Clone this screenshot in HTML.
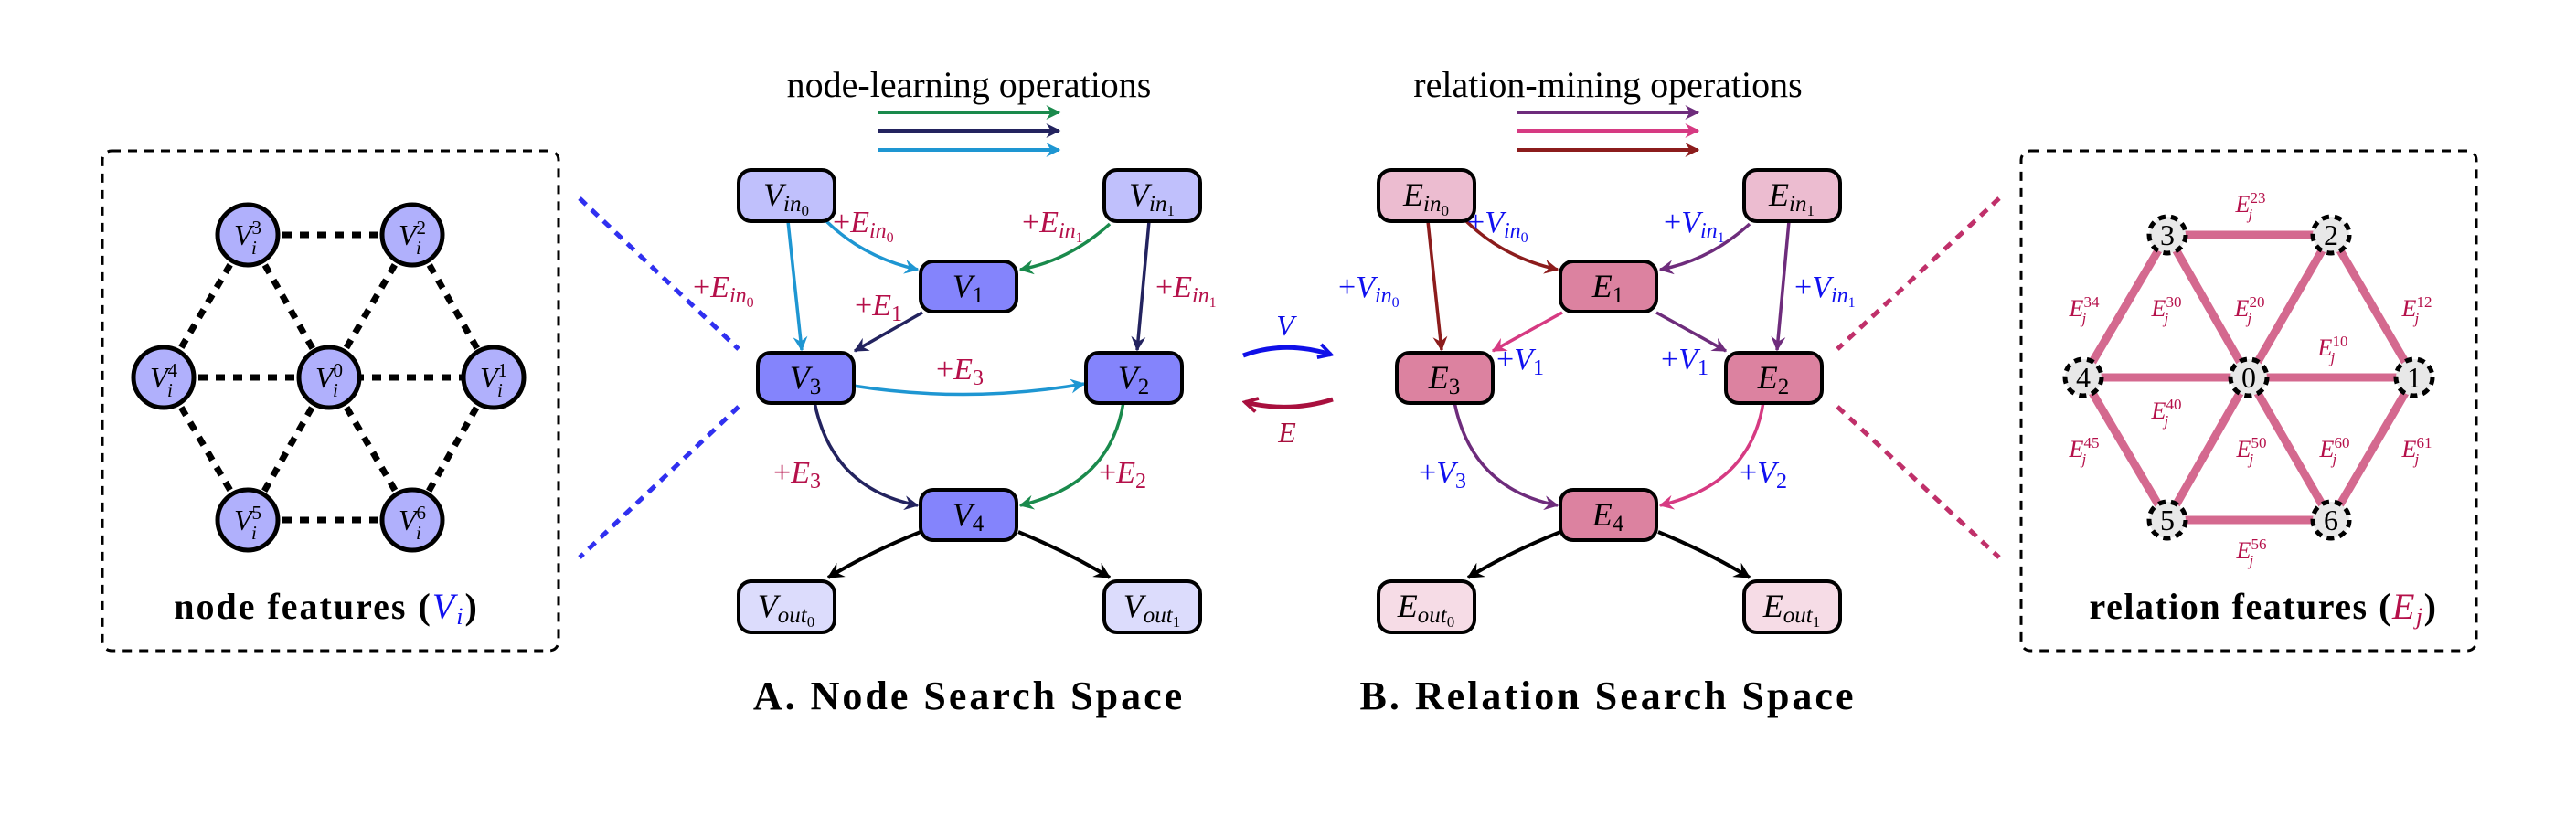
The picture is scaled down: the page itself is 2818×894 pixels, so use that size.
<!DOCTYPE html>
<html><head><meta charset="utf-8"><style>
html,body{margin:0;padding:0;background:#fff;}
svg{display:block;}
text{font-family:"Liberation Serif",serif;}
.it{font-style:italic;}
</style></head><body>
<svg width="2818" height="894" viewBox="0 0 2818 894" xmlns="http://www.w3.org/2000/svg">
<defs>
<marker id="mcy" viewBox="0 0 12 12" refX="11" refY="6" markerWidth="16" markerHeight="16" markerUnits="userSpaceOnUse" orient="auto"><path d="M0,0 L12,6 L0,12 L4,6 Z" fill="#1e96d2"/></marker>
<marker id="mgr" viewBox="0 0 12 12" refX="11" refY="6" markerWidth="16" markerHeight="16" markerUnits="userSpaceOnUse" orient="auto"><path d="M0,0 L12,6 L0,12 L4,6 Z" fill="#1a8a4c"/></marker>
<marker id="mnv" viewBox="0 0 12 12" refX="11" refY="6" markerWidth="16" markerHeight="16" markerUnits="userSpaceOnUse" orient="auto"><path d="M0,0 L12,6 L0,12 L4,6 Z" fill="#23235f"/></marker>
<marker id="mbk" viewBox="0 0 12 12" refX="11" refY="6" markerWidth="18" markerHeight="18" markerUnits="userSpaceOnUse" orient="auto"><path d="M0,0 L12,6 L0,12 L4,6 Z" fill="#000"/></marker>
<marker id="mdr" viewBox="0 0 12 12" refX="11" refY="6" markerWidth="16" markerHeight="16" markerUnits="userSpaceOnUse" orient="auto"><path d="M0,0 L12,6 L0,12 L4,6 Z" fill="#8c1c1c"/></marker>
<marker id="mpu" viewBox="0 0 12 12" refX="11" refY="6" markerWidth="16" markerHeight="16" markerUnits="userSpaceOnUse" orient="auto"><path d="M0,0 L12,6 L0,12 L4,6 Z" fill="#6e2c7c"/></marker>
<marker id="mpk" viewBox="0 0 12 12" refX="11" refY="6" markerWidth="16" markerHeight="16" markerUnits="userSpaceOnUse" orient="auto"><path d="M0,0 L12,6 L0,12 L4,6 Z" fill="#d63a82"/></marker>
<marker id="mbl" viewBox="0 0 12 12" refX="10" refY="6" markerWidth="18" markerHeight="18" markerUnits="userSpaceOnUse" orient="auto"><path d="M1,1 L10,6 L1,11" fill="none" stroke="#1010e8" stroke-width="2.5"/></marker>
<marker id="mcr" viewBox="0 0 12 12" refX="10" refY="6" markerWidth="18" markerHeight="18" markerUnits="userSpaceOnUse" orient="auto"><path d="M1,1 L10,6 L1,11" fill="none" stroke="#a8103e" stroke-width="2.5"/></marker>
</defs>

<!-- LEFT BOX -->
<rect x="112" y="165" width="499" height="547" rx="10" fill="none" stroke="#000" stroke-width="3" stroke-dasharray="10,8"/>
<g stroke="#000" stroke-width="7" stroke-dasharray="10,9">
<line x1="271" y1="257" x2="451" y2="257"/>
<line x1="179" y1="413" x2="540" y2="413"/>
<line x1="271" y1="569" x2="451" y2="569"/>
<line x1="271" y1="257" x2="179" y2="413"/>
<line x1="271" y1="257" x2="360" y2="413"/>
<line x1="451" y1="257" x2="360" y2="413"/>
<line x1="451" y1="257" x2="540" y2="413"/>
<line x1="179" y1="413" x2="271" y2="569"/>
<line x1="360" y1="413" x2="271" y2="569"/>
<line x1="360" y1="413" x2="451" y2="569"/>
<line x1="540" y1="413" x2="451" y2="569"/>
</g>
<g fill="#b0b0fc" stroke="#000" stroke-width="5">
<circle cx="271" cy="257" r="33"/><circle cx="451" cy="257" r="33"/>
<circle cx="179" cy="413" r="33"/><circle cx="360" cy="413" r="33"/><circle cx="540" cy="413" r="33"/>
<circle cx="271" cy="569" r="33"/><circle cx="451" cy="569" r="33"/>
</g>
<g font-size="32" text-anchor="middle">
<text x="271" y="268"><tspan class="it">V</tspan><tspan font-size="21" dy="-12">3</tspan><tspan class="it" font-size="21" dx="-11" dy="22">i</tspan></text>
<text x="451" y="268"><tspan class="it">V</tspan><tspan font-size="21" dy="-12">2</tspan><tspan class="it" font-size="21" dx="-11" dy="22">i</tspan></text>
<text x="179" y="424"><tspan class="it">V</tspan><tspan font-size="21" dy="-12">4</tspan><tspan class="it" font-size="21" dx="-11" dy="22">i</tspan></text>
<text x="360" y="424"><tspan class="it">V</tspan><tspan font-size="21" dy="-12">0</tspan><tspan class="it" font-size="21" dx="-11" dy="22">i</tspan></text>
<text x="540" y="424"><tspan class="it">V</tspan><tspan font-size="21" dy="-12">1</tspan><tspan class="it" font-size="21" dx="-11" dy="22">i</tspan></text>
<text x="271" y="580"><tspan class="it">V</tspan><tspan font-size="21" dy="-12">5</tspan><tspan class="it" font-size="21" dx="-11" dy="22">i</tspan></text>
<text x="451" y="580"><tspan class="it">V</tspan><tspan font-size="21" dy="-12">6</tspan><tspan class="it" font-size="21" dx="-11" dy="22">i</tspan></text>
</g>
<text x="357" y="677" font-size="40" font-weight="bold" letter-spacing="2" text-anchor="middle">node features (<tspan class="it" fill="#1010f0" font-weight="normal">V</tspan><tspan class="it" fill="#1010f0" font-weight="normal" font-size="26" dy="6">i</tspan><tspan dy="-6">)</tspan></text>
<g stroke="#3030f0" stroke-width="5" stroke-dasharray="10,8">
<line x1="634" y1="217" x2="808" y2="382"/>
<line x1="808" y1="445" x2="634" y2="610"/>
</g>

<!-- A TITLE + LEGEND -->
<text x="1060" y="106" font-size="40" text-anchor="middle">node-learning operations</text>
<line x1="960" y1="123" x2="1159" y2="123" stroke="#1a8a4c" stroke-width="4" marker-end="url(#mgr)"/>
<line x1="960" y1="143" x2="1159" y2="143" stroke="#23235f" stroke-width="4" marker-end="url(#mnv)"/>
<line x1="960" y1="164" x2="1159" y2="164" stroke="#1e96d2" stroke-width="4" marker-end="url(#mcy)"/>

<!-- A EDGES -->
<g fill="none" stroke-width="3.5">
<path d="M862,242 L877,383" stroke="#1e96d2" marker-end="url(#mcy)"/>
<path d="M904,242 Q945,282 1004,295" stroke="#1e96d2" marker-end="url(#mcy)"/>
<path d="M933,422 Q1060,442 1186,420" stroke="#1e96d2" marker-end="url(#mcy)"/>
<path d="M1214,245 Q1170,285 1116,295" stroke="#1a8a4c" marker-end="url(#mgr)"/>
<path d="M1229,440 Q1215,530 1116,553" stroke="#1a8a4c" marker-end="url(#mgr)"/>
<path d="M1257,242 L1244,383" stroke="#23235f" marker-end="url(#mnv)"/>
<path d="M1009,342 L935,384" stroke="#23235f" marker-end="url(#mnv)"/>
<path d="M891,440 Q910,535 1004,553" stroke="#23235f" marker-end="url(#mnv)"/>
<path d="M1007,582 Q950,605 906,632" stroke="#000" stroke-width="4" marker-end="url(#mbk)"/>
<path d="M1114,582 Q1170,605 1214,632" stroke="#000" stroke-width="4" marker-end="url(#mbk)"/>
</g>

<!-- A NODES -->
<g stroke="#000" stroke-width="4">
<rect x="808" y="186" width="105" height="56" rx="14" fill="#c0c0fc"/>
<rect x="1208" y="186" width="105" height="56" rx="14" fill="#c0c0fc"/>
<rect x="1007" y="286" width="105" height="55" rx="14" fill="#8484fc"/>
<rect x="829" y="386" width="105" height="55" rx="14" fill="#8484fc"/>
<rect x="1188" y="386" width="105" height="55" rx="14" fill="#8484fc"/>
<rect x="1007" y="536" width="105" height="55" rx="14" fill="#8484fc"/>
<rect x="808" y="636" width="105" height="56" rx="14" fill="#dcdcfc"/>
<rect x="1208" y="636" width="105" height="56" rx="14" fill="#dcdcfc"/>
</g>
<g font-size="36" text-anchor="middle">
<text x="860" y="225"><tspan class="it">V</tspan><tspan class="it" font-size="25" dy="6">in</tspan><tspan font-size="17" dy="5">0</tspan></text>
<text x="1260" y="225"><tspan class="it">V</tspan><tspan class="it" font-size="25" dy="6">in</tspan><tspan font-size="17" dy="5">1</tspan></text>
<text x="1059" y="325"><tspan class="it">V</tspan><tspan font-size="25" dy="6">1</tspan></text>
<text x="881" y="425"><tspan class="it">V</tspan><tspan font-size="25" dy="6">3</tspan></text>
<text x="1240" y="425"><tspan class="it">V</tspan><tspan font-size="25" dy="6">2</tspan></text>
<text x="1059" y="575"><tspan class="it">V</tspan><tspan font-size="25" dy="6">4</tspan></text>
<text x="860" y="675"><tspan class="it">V</tspan><tspan class="it" font-size="25" dy="6">out</tspan><tspan font-size="17" dy="5">0</tspan></text>
<text x="1260" y="675"><tspan class="it">V</tspan><tspan class="it" font-size="25" dy="6">out</tspan><tspan font-size="17" dy="5">1</tspan></text>
</g>

<!-- A EDGE LABELS -->
<g font-size="34" fill="#b5104a">
<text x="911" y="254">+<tspan class="it">E</tspan><tspan class="it" font-size="24" dy="6">in</tspan><tspan font-size="16" dy="5">0</tspan></text>
<text x="1118" y="254">+<tspan class="it">E</tspan><tspan class="it" font-size="24" dy="6">in</tspan><tspan font-size="16" dy="5">1</tspan></text>
<text x="758" y="325">+<tspan class="it">E</tspan><tspan class="it" font-size="24" dy="6">in</tspan><tspan font-size="16" dy="5">0</tspan></text>
<text x="935" y="345">+<tspan class="it">E</tspan><tspan font-size="24" dy="6">1</tspan></text>
<text x="1264" y="325">+<tspan class="it">E</tspan><tspan class="it" font-size="24" dy="6">in</tspan><tspan font-size="16" dy="5">1</tspan></text>
<text x="1024" y="415">+<tspan class="it">E</tspan><tspan font-size="24" dy="6">3</tspan></text>
<text x="846" y="528">+<tspan class="it">E</tspan><tspan font-size="24" dy="6">3</tspan></text>
<text x="1202" y="528">+<tspan class="it">E</tspan><tspan font-size="24" dy="6">2</tspan></text>
</g>
<text x="1060" y="776" font-size="44" font-weight="bold" letter-spacing="3" text-anchor="middle">A. Node Search Space</text>

<!-- MIDDLE -->
<path d="M1360,389 Q1405,372 1456,388" fill="none" stroke="#1010e8" stroke-width="5" marker-end="url(#mbl)"/>
<text x="1406" y="367" font-size="32" class="it" fill="#1010e8" text-anchor="middle">V</text>
<path d="M1458,437 Q1410,452 1362,440" fill="none" stroke="#a8103e" stroke-width="5" marker-end="url(#mcr)"/>
<text x="1408" y="484" font-size="32" class="it" fill="#a8103e" text-anchor="middle">E</text>

<!-- B TITLE + LEGEND -->
<text x="1759" y="106" font-size="40" text-anchor="middle">relation-mining operations</text>
<line x1="1660" y1="123" x2="1858" y2="123" stroke="#6e2c7c" stroke-width="4" marker-end="url(#mpu)"/>
<line x1="1660" y1="143" x2="1858" y2="143" stroke="#d63a82" stroke-width="4" marker-end="url(#mpk)"/>
<line x1="1660" y1="164" x2="1858" y2="164" stroke="#8c1c1c" stroke-width="4" marker-end="url(#mdr)"/>

<!-- B EDGES -->
<g fill="none" stroke-width="3.5">
<path d="M1562,242 L1577,383" stroke="#8c1c1c" marker-end="url(#mdr)"/>
<path d="M1604,242 Q1645,282 1704,295" stroke="#8c1c1c" marker-end="url(#mdr)"/>
<path d="M1914,245 Q1870,285 1816,295" stroke="#6e2c7c" marker-end="url(#mpu)"/>
<path d="M1957,242 L1944,383" stroke="#6e2c7c" marker-end="url(#mpu)"/>
<path d="M1812,342 L1888,384" stroke="#6e2c7c" marker-end="url(#mpu)"/>
<path d="M1591,440 Q1610,535 1704,553" stroke="#6e2c7c" marker-end="url(#mpu)"/>
<path d="M1709,342 L1633,384" stroke="#d63a82" marker-end="url(#mpk)"/>
<path d="M1929,440 Q1915,530 1816,553" stroke="#d63a82" marker-end="url(#mpk)"/>
<path d="M1707,582 Q1650,605 1606,632" stroke="#000" stroke-width="4" marker-end="url(#mbk)"/>
<path d="M1814,582 Q1870,605 1914,632" stroke="#000" stroke-width="4" marker-end="url(#mbk)"/>
</g>

<!-- B NODES -->
<g stroke="#000" stroke-width="4">
<rect x="1508" y="186" width="105" height="56" rx="14" fill="#ecbcd0"/>
<rect x="1908" y="186" width="105" height="56" rx="14" fill="#ecbcd0"/>
<rect x="1707" y="286" width="105" height="55" rx="14" fill="#dc82a0"/>
<rect x="1528" y="386" width="105" height="55" rx="14" fill="#dc82a0"/>
<rect x="1888" y="386" width="105" height="55" rx="14" fill="#dc82a0"/>
<rect x="1707" y="536" width="105" height="55" rx="14" fill="#dc82a0"/>
<rect x="1508" y="636" width="105" height="56" rx="14" fill="#f6dce6"/>
<rect x="1908" y="636" width="105" height="56" rx="14" fill="#f6dce6"/>
</g>
<g font-size="36" text-anchor="middle">
<text x="1560" y="225"><tspan class="it">E</tspan><tspan class="it" font-size="25" dy="6">in</tspan><tspan font-size="17" dy="5">0</tspan></text>
<text x="1960" y="225"><tspan class="it">E</tspan><tspan class="it" font-size="25" dy="6">in</tspan><tspan font-size="17" dy="5">1</tspan></text>
<text x="1759" y="325"><tspan class="it">E</tspan><tspan font-size="25" dy="6">1</tspan></text>
<text x="1580" y="425"><tspan class="it">E</tspan><tspan font-size="25" dy="6">3</tspan></text>
<text x="1940" y="425"><tspan class="it">E</tspan><tspan font-size="25" dy="6">2</tspan></text>
<text x="1759" y="575"><tspan class="it">E</tspan><tspan font-size="25" dy="6">4</tspan></text>
<text x="1560" y="675"><tspan class="it">E</tspan><tspan class="it" font-size="25" dy="6">out</tspan><tspan font-size="17" dy="5">0</tspan></text>
<text x="1960" y="675"><tspan class="it">E</tspan><tspan class="it" font-size="25" dy="6">out</tspan><tspan font-size="17" dy="5">1</tspan></text>
</g>

<!-- B EDGE LABELS -->
<g font-size="34" fill="#1010f0">
<text x="1605" y="254">+<tspan class="it">V</tspan><tspan class="it" font-size="24" dy="6">in</tspan><tspan font-size="16" dy="5">0</tspan></text>
<text x="1820" y="254">+<tspan class="it">V</tspan><tspan class="it" font-size="24" dy="6">in</tspan><tspan font-size="16" dy="5">1</tspan></text>
<text x="1464" y="325">+<tspan class="it">V</tspan><tspan class="it" font-size="24" dy="6">in</tspan><tspan font-size="16" dy="5">0</tspan></text>
<text x="1963" y="325">+<tspan class="it">V</tspan><tspan class="it" font-size="24" dy="6">in</tspan><tspan font-size="16" dy="5">1</tspan></text>
<text x="1637" y="404">+<tspan class="it">V</tspan><tspan font-size="24" dy="6">1</tspan></text>
<text x="1817" y="404">+<tspan class="it">V</tspan><tspan font-size="24" dy="6">1</tspan></text>
<text x="1552" y="528">+<tspan class="it">V</tspan><tspan font-size="24" dy="6">3</tspan></text>
<text x="1903" y="528">+<tspan class="it">V</tspan><tspan font-size="24" dy="6">2</tspan></text>
</g>
<text x="1759" y="776" font-size="44" font-weight="bold" letter-spacing="3" text-anchor="middle">B. Relation Search Space</text>

<!-- RIGHT BOX -->
<rect x="2211" y="165" width="498" height="547" rx="10" fill="none" stroke="#000" stroke-width="3" stroke-dasharray="10,8"/>
<g stroke="#c0306a" stroke-width="5" stroke-dasharray="10,8">
<line x1="2187" y1="217" x2="2010" y2="382"/>
<line x1="2010" y1="445" x2="2187" y2="610"/>
</g>
<g stroke="#d4698f" stroke-width="9">
<line x1="2371" y1="257" x2="2550" y2="257"/>
<line x1="2279" y1="413" x2="2641" y2="413"/>
<line x1="2371" y1="569" x2="2550" y2="569"/>
<line x1="2371" y1="257" x2="2279" y2="413"/>
<line x1="2371" y1="257" x2="2460" y2="413"/>
<line x1="2550" y1="257" x2="2460" y2="413"/>
<line x1="2550" y1="257" x2="2641" y2="413"/>
<line x1="2279" y1="413" x2="2371" y2="569"/>
<line x1="2460" y1="413" x2="2371" y2="569"/>
<line x1="2460" y1="413" x2="2550" y2="569"/>
<line x1="2641" y1="413" x2="2550" y2="569"/>
</g>
<g fill="#e8e8e8" stroke="#000" stroke-width="5" stroke-dasharray="8,6">
<circle cx="2371" cy="257" r="20"/><circle cx="2550" cy="257" r="20"/>
<circle cx="2279" cy="413" r="20"/><circle cx="2460" cy="413" r="20"/><circle cx="2641" cy="413" r="20"/>
<circle cx="2371" cy="569" r="20"/><circle cx="2550" cy="569" r="20"/>
</g>
<g font-size="32" text-anchor="middle">
<text x="2371" y="268">3</text><text x="2550" y="268">2</text>
<text x="2279" y="424">4</text><text x="2460" y="424">0</text><text x="2641" y="424">1</text>
<text x="2371" y="580">5</text><text x="2550" y="580">6</text>
</g>
<g font-size="26" fill="#b5104a" text-anchor="middle">
<text x="2462" y="232"><tspan class="it">E</tspan><tspan font-size="17" dy="-10">23</tspan><tspan class="it" font-size="17" dx="-19" dy="18">j</tspan></text>
<text x="2280" y="346"><tspan class="it">E</tspan><tspan font-size="17" dy="-10">34</tspan><tspan class="it" font-size="17" dx="-19" dy="18">j</tspan></text>
<text x="2370" y="346"><tspan class="it">E</tspan><tspan font-size="17" dy="-10">30</tspan><tspan class="it" font-size="17" dx="-19" dy="18">j</tspan></text>
<text x="2461" y="346"><tspan class="it">E</tspan><tspan font-size="17" dy="-10">20</tspan><tspan class="it" font-size="17" dx="-19" dy="18">j</tspan></text>
<text x="2644" y="346"><tspan class="it">E</tspan><tspan font-size="17" dy="-10">12</tspan><tspan class="it" font-size="17" dx="-19" dy="18">j</tspan></text>
<text x="2552" y="389"><tspan class="it">E</tspan><tspan font-size="17" dy="-10">10</tspan><tspan class="it" font-size="17" dx="-19" dy="18">j</tspan></text>
<text x="2370" y="458"><tspan class="it">E</tspan><tspan font-size="17" dy="-10">40</tspan><tspan class="it" font-size="17" dx="-19" dy="18">j</tspan></text>
<text x="2280" y="500"><tspan class="it">E</tspan><tspan font-size="17" dy="-10">45</tspan><tspan class="it" font-size="17" dx="-19" dy="18">j</tspan></text>
<text x="2463" y="500"><tspan class="it">E</tspan><tspan font-size="17" dy="-10">50</tspan><tspan class="it" font-size="17" dx="-19" dy="18">j</tspan></text>
<text x="2554" y="500"><tspan class="it">E</tspan><tspan font-size="17" dy="-10">60</tspan><tspan class="it" font-size="17" dx="-19" dy="18">j</tspan></text>
<text x="2644" y="500"><tspan class="it">E</tspan><tspan font-size="17" dy="-10">61</tspan><tspan class="it" font-size="17" dx="-19" dy="18">j</tspan></text>
<text x="2463" y="611"><tspan class="it">E</tspan><tspan font-size="17" dy="-10">56</tspan><tspan class="it" font-size="17" dx="-19" dy="18">j</tspan></text>
</g>
<text x="2476" y="677" font-size="40" font-weight="bold" letter-spacing="1.5" text-anchor="middle">relation features (<tspan class="it" fill="#b5104a" font-weight="normal">E</tspan><tspan class="it" fill="#b5104a" font-weight="normal" font-size="26" dy="6">j</tspan><tspan dy="-6">)</tspan></text>
</svg>
</body></html>
